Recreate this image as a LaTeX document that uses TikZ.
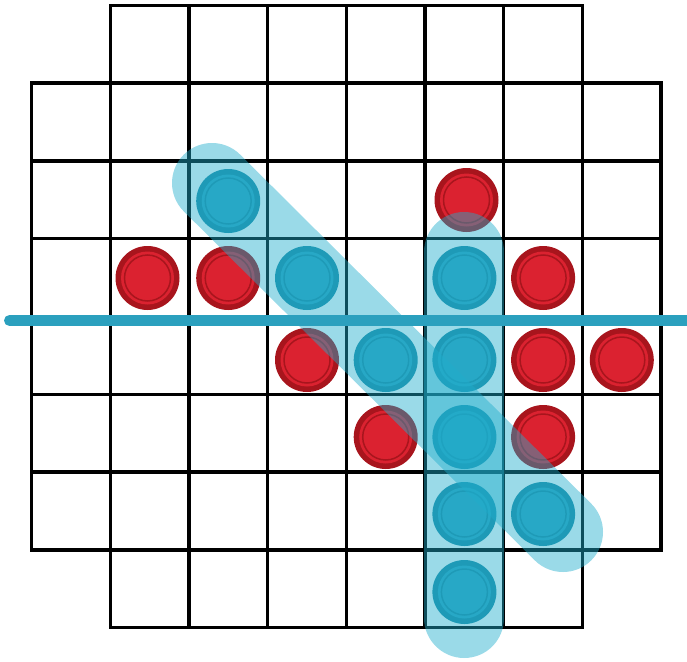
\documentclass[tikz,border=0pt]{standalone}
\begin{document}
\begin{tikzpicture}[x=1pt,y=-1pt]
\definecolor{redmain}{HTML}{DB2230}
\definecolor{reddark}{HTML}{A8151D}
\definecolor{bluemain}{HTML}{2FA5C2}
\definecolor{bluedark}{HTML}{1E8CA6}
\definecolor{hlblue}{HTML}{1FADCC}
\definecolor{lineblue}{HTML}{2BA0BE}
\tikzset{
  gridline/.style={draw=black,line width=3.3pt},
  piece/.style={circle,inner sep=0pt,minimum size=64pt},
  redpiece/.style={piece,fill=reddark,path picture={
      \fill[redmain] (path picture bounding box.center) circle (26.5);
      \draw[reddark,line width=1.5pt] (path picture bounding box.center) circle (23);}},
  bluepiece/.style={piece,fill=bluedark,path picture={
      \fill[bluemain] (path picture bounding box.center) circle (26.5);
      \draw[bluedark,line width=1.5pt] (path picture bounding box.center) circle (23);}},
  highlight/.style={draw=hlblue,line width=80pt,line cap=round,opacity=0.45},
  winline/.style={draw=lineblue,line width=11pt,line cap=round}
}
\useasboundingbox (0,0) rectangle (687,661);
% grid
\foreach \j in {0,7}{
  \foreach \i in {1,...,6}{
    \draw[gridline] ({31.5+78.7*\i},{5.3+77.8*\j}) rectangle ({31.5+78.7*(\i+1)},{5.3+77.8*(\j+1)});
  }
}
\foreach \j in {1,...,6}{
  \foreach \i in {0,...,7}{
    \draw[gridline] ({31.5+78.7*\i},{5.3+77.8*\j}) rectangle ({31.5+78.7*(\i+1)},{5.3+77.8*(\j+1)});
  }
}
% pieces
\node[bluepiece] (b1) at (228.2,201) {};
\node[bluepiece] (b2) at (307.0,278) {};
\node[bluepiece] (b3) at (464.4,278) {};
\node[bluepiece] (b4) at (385.7,360) {};
\node[bluepiece] (b5) at (464.4,360) {};
\node[bluepiece] (b6) at (464.4,437) {};
\node[bluepiece] (b7) at (464.4,514) {};
\node[bluepiece] (b8) at (543.1,514) {};
\node[bluepiece] (b9) at (464.4,592) {};
\node[redpiece] (r1) at (466.5,200) {};
\node[redpiece] (r2) at (147.5,278) {};
\node[redpiece] (r3) at (228.2,278) {};
\node[redpiece] (r4) at (543.1,278) {};
\node[redpiece] (r5) at (307.0,360) {};
\node[redpiece] (r6) at (543.1,360) {};
\node[redpiece] (r7) at (621.8,360) {};
\node[redpiece] (r8) at (385.7,437) {};
\node[redpiece] (r9) at (543.1,437) {};
% highlights
\coordinate (d1) at (212,183);
\coordinate (d2) at (563,532);
\coordinate (v1) at (464.4,252);
\coordinate (v2) at (464.4,618);
\draw[highlight] (d1) -- (d2);
\draw[highlight] (v1) -- (v2);
% horizontal line
\coordinate (h1) at (9.5,320.5);
\coordinate (h2) at (700,320.5);
\draw[winline] (h1) -- (h2);
\end{tikzpicture}
\end{document}
